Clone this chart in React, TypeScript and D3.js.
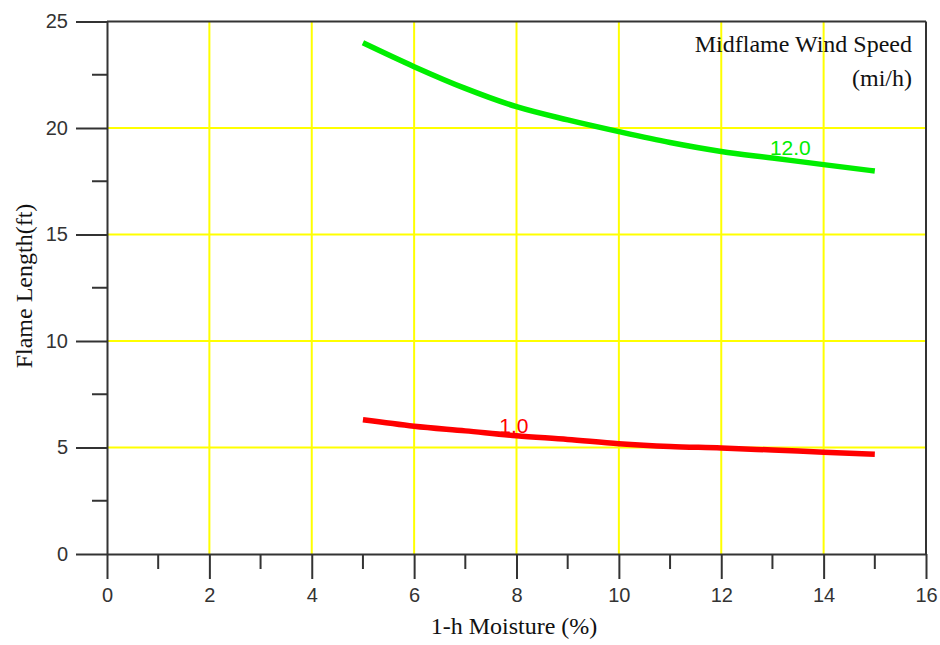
import React, { useEffect, useRef } from 'react';
import * as d3 from 'd3';

// 1-h moisture (%) values along the x axis
const moisture = [5, 6, 7, 8, 9, 10, 11, 12, 13, 14, 15];
// flame length (ft) for each midflame wind speed
const wind12 = [24.0, 22.88, 21.86, 21.0, 20.38, 19.83, 19.32, 18.9, 18.59, 18.28, 17.98];
const wind1 = [6.3, 6.0, 5.78, 5.55, 5.38, 5.18, 5.05, 4.98, 4.88, 4.78, 4.68];
const seriesNames = ['12.0', '1.0'];
const seriesColors = ['#00ee00', '#ff0000'];
// where the curve labels sit (x value, y value)
const labelSpots = [[13.35, 18.72], [7.95, 5.68]];

const xTicks = [0, 2, 4, 6, 8, 10, 12, 14, 16];
const xMinor = [1, 3, 5, 7, 9, 11, 13, 15];
const yTicks = [0, 5, 10, 15, 20, 25];
const yMinor = [2.5, 7.5, 12.5, 17.5, 22.5];

export default function App() {
  const ref = useRef<SVGSVGElement>(null);

  useEffect(() => {
    const svg = d3.select(ref.current);
    svg.selectAll('*').remove();

    const x = d3.scaleLinear().domain([0, 16]).range([107, 926]);
    const y = d3.scaleLinear().domain([0, 25]).range([554, 21.5]);
    const axisColor = '#333';
    const tickFont = "'Liberation Sans', Arial, sans-serif";
    const serif = "'Liberation Serif', 'Times New Roman', serif";

    // yellow grid
    const grid = svg.append('g').attr('stroke', '#ffff00').attr('stroke-width', 2);
    grid.selectAll('line.gx')
      .data(xTicks.filter(d => d > 0 && d < 16))
      .join('line')
      .attr('x1', d => x(d)).attr('x2', d => x(d))
      .attr('y1', y(0)).attr('y2', y(25));
    grid.selectAll('line.gy')
      .data(yTicks.filter(d => d > 0 && d < 25))
      .join('line')
      .attr('y1', d => y(d)).attr('y2', d => y(d))
      .attr('x1', x(0)).attr('x2', x(16));

    // frame top + right
    svg.append('line')
      .attr('x1', x(0)).attr('x2', x(16)).attr('y1', y(25)).attr('y2', y(25))
      .attr('stroke', axisColor).attr('stroke-width', 2);
    svg.append('line')
      .attr('x1', x(16)).attr('x2', x(16)).attr('y1', y(25)).attr('y2', y(0))
      .attr('stroke', axisColor).attr('stroke-width', 2);

    // y axis
    const yAxis = svg.append('g')
      .attr('transform', `translate(${x(0)},0)`)
      .call(d3.axisLeft(y).tickValues(yTicks).tickSize(31).tickPadding(8).tickSizeOuter(0));
    yAxis.append('g').selectAll('line')
      .data(yMinor)
      .join('line')
      .attr('x1', -15).attr('x2', 0)
      .attr('y1', d => y(d)).attr('y2', d => y(d))
      .attr('stroke', axisColor);

    // x axis
    const xAxis = svg.append('g')
      .attr('transform', `translate(0,${y(0)})`)
      .call(d3.axisBottom(x).tickValues(xTicks).tickSize(25).tickPadding(9).tickSizeOuter(0));
    xAxis.append('g').selectAll('line')
      .data(xMinor)
      .join('line')
      .attr('y1', 0).attr('y2', 15)
      .attr('x1', d => x(d)).attr('x2', d => x(d))
      .attr('stroke', axisColor);

    [yAxis, xAxis].forEach(g => {
      g.selectAll('path').attr('stroke', axisColor).attr('stroke-width', 2);
      g.selectAll('line').attr('stroke', axisColor).attr('stroke-width', 2);
      g.selectAll('text')
        .attr('fill', axisColor)
        .style('font-family', tickFont)
        .style('font-size', '20px');
    });

    // curves
    const line = d3.line<number>()
      .x((d, i) => x(moisture[i]))
      .y(d => y(d))
      .curve(d3.curveMonotoneX);

    [wind12, wind1].forEach((vals, i) => {
      svg.append('path')
        .datum(vals)
        .attr('fill', 'none')
        .attr('stroke', seriesColors[i])
        .attr('stroke-width', 5.5)
        .attr('stroke-linecap', 'butt')
        .attr('d', line);
      svg.append('text')
        .attr('x', x(labelSpots[i][0]))
        .attr('y', y(labelSpots[i][1]))
        .attr('text-anchor', 'middle')
        .attr('fill', seriesColors[i])
        .style('font-family', tickFont)
        .style('font-size', '21px')
        .text(seriesNames[i]);
    });

    // legend title
    svg.append('text')
      .attr('x', 912).attr('y', 52)
      .attr('text-anchor', 'end')
      .attr('fill', '#111')
      .style('font-family', serif)
      .style('font-size', '24px')
      .text('Midflame Wind Speed');
    svg.append('text')
      .attr('x', 912).attr('y', 86)
      .attr('text-anchor', 'end')
      .attr('fill', '#111')
      .style('font-family', serif)
      .style('font-size', '24px')
      .text('(mi/h)');

    // axis titles
    svg.append('text')
      .attr('x', 514).attr('y', 634)
      .attr('text-anchor', 'middle')
      .attr('fill', '#111')
      .style('font-family', serif)
      .style('font-size', '24px')
      .text('1-h Moisture (%)');
    svg.append('text')
      .attr('transform', 'translate(32,286) rotate(-90)')
      .attr('text-anchor', 'middle')
      .attr('fill', '#111')
      .style('font-family', serif)
      .style('font-size', '24px')
      .text('Flame Length(ft)');
  }, []);

  return (
    <svg
      ref={ref}
      width={940}
      height={645}
      style={{ position: 'absolute', left: 0, top: 0, background: '#fff' }}
    />
  );
}
